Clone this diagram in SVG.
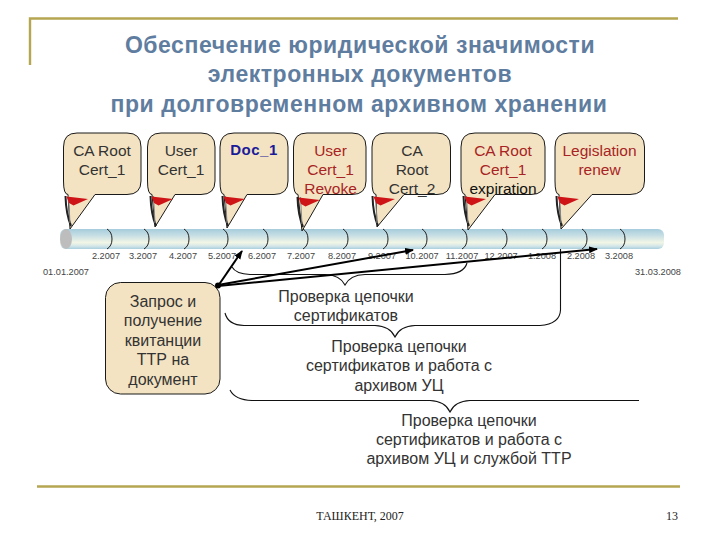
<svg xmlns="http://www.w3.org/2000/svg" width="720" height="540" viewBox="0 0 720 540">
<style>
text{font-family:"Liberation Sans",Arial,sans-serif;fill:#333;text-anchor:middle}
.c{font-size:15.5px}
.r{fill:#a82424}
.k{fill:#111}
.b{font-size:16px}
.d{font-size:9.2px;fill:#444}
.t{font-size:23px;font-weight:700;fill:#5f7d9f;letter-spacing:.55px}
.f{font-family:"Liberation Serif",serif;font-size:12px;fill:#222}
.bub{fill:#f3e3c2;stroke:#1a1a1a;stroke-width:1}
.tick{fill:none;stroke:#222;stroke-width:1}
.br{fill:none;stroke:#111;stroke-width:1.1}
.ar{fill:none;stroke:#000;stroke-width:2;marker-end:url(#ah)}
.gold{fill:none;stroke:#b5a652;stroke-width:2.4}
</style>
<defs>
<linearGradient id="bar" x1="0" y1="0" x2="0" y2="1">
<stop offset="0" stop-color="#a6ccdb"/><stop offset=".3" stop-color="#c4dde4"/><stop offset=".68" stop-color="#f2f6e6"/><stop offset=".85" stop-color="#d5e6e8"/><stop offset="1" stop-color="#a9cfdd"/>
</linearGradient>
<marker id="ah" markerWidth="10" markerHeight="8" refX="8" refY="3.500" orient="auto" markerUnits="userSpaceOnUse"><path d="M0 0L9 3.500L0 7Z" fill="#000"/></marker>
<g id="flag">
<path d="M-4.500 -33Q-4 -15 1 -3" fill="none" stroke="#222" stroke-width="2"/>
<path d="M-1.500 -33L0 -6" fill="none" stroke="#888" stroke-width="1"/>
<path d="M-3.500 -32.500L18 -30L3.500 -23.500L-1 -26Z" fill="#cf1418"/>
</g>
</defs>
<rect width="720" height="540" fill="#fff"/>
<path class="gold" d="M30 65V18.500H678"/>
<path class="gold" d="M37 486.500H680"/>
<g id="title">
<text class="t" x="360" y="53">Обеспечение юридической значимости</text>
<text class="t" x="360" y="82">электронных документов</text>
<text class="t" x="359" y="112">при долговременном архивном хранении</text>
</g>
<g id="timeline">
<rect x="60" y="229" width="604" height="20" rx="6" fill="url(#bar)"/>
<ellipse cx="66" cy="239" rx="6" ry="10" fill="#bdbdbd"/>
<path class="tick" d="M107 229Q112 232 112 239T107 249M144 229Q149 232 149 239T144 249M184 229Q189 232 189 239T184 249M223 229Q228 232 228 239T223 249M263 229Q268 232 268 239T263 249M303 229Q308 232 308 239T303 249M343 229Q348 232 348 239T343 249M383 229Q388 232 388 239T383 249M422 229Q427 232 427 239T422 249M462 229Q467 232 467 239T462 249M502 229Q507 232 507 239T502 249M542 229Q547 232 547 239T542 249M582 229Q587 232 587 239T582 249M620 229Q625 232 625 239T620 249"/>
<text class="d" x="106" y="259">2.2007</text><text class="d" x="143" y="259">3.2007</text><text class="d" x="183" y="259">4.2007</text><text class="d" x="222" y="259">5.2007</text><text class="d" x="262" y="259">6.2007</text><text class="d" x="301" y="259">7.2007</text><text class="d" x="342" y="259">8.2007</text><text class="d" x="382" y="259">9.2007</text><text class="d" x="422" y="259">10.2007</text><text class="d" x="462" y="259">11.2007</text><text class="d" x="501" y="259">12.2007</text><text class="d" x="542" y="259">1.2008</text><text class="d" x="581" y="259">2.2008</text><text class="d" x="619" y="259">3.2008</text>
<text class="d" x="66" y="275">01.01.2007</text><text class="d" x="658" y="275">31.03.2008</text>
</g>
<g id="n1"><path class="bub" d="M77 133H127Q141 133 141 147V181Q141 194.500 127 194.500H95L70 229L68 194.500Q63.500 194.500 63.500 181V147Q63.500 133 77 133Z"/><text class="c" x="102" y="156">CA Root</text><text class="c" x="102" y="175">Cert_1</text><use href="#flag" x="70" y="229"/></g>
<g id="n2"><path class="bub" d="M161 133H201Q215 133 215 147V181Q215 194.500 201 194.500H175L155 227L152 194.500Q147.500 194.500 147.500 181V147Q147.500 133 161 133Z"/><text class="c" x="181" y="156">User</text><text class="c" x="181" y="175">Cert_1</text><use href="#flag" x="155" y="229"/></g>
<g id="n3"><path class="bub" d="M234 133H274Q288 133 288 147V181Q288 194.500 274 194.500H247L227 228L224 194.500Q220 194.500 220 181V147Q220 133 234 133Z"/><text class="c" x="254" y="155" style="font-weight:700;fill:#1b1b9a;letter-spacing:.5px;font-size:15px">Doc_1</text><use href="#flag" x="227" y="229"/></g>
<g id="n4"><path class="bub" d="M307 133H352Q366 133 366 147V181Q366 194.500 352 194.500H323L302 231L298 194.500Q293.500 194.500 293.500 181V147Q293.500 133 307 133Z"/><text class="c r" x="330.500" y="156">User</text><text class="c r" x="330.500" y="175">Cert_1</text><text class="c r" x="330.500" y="194">Revoke</text><use href="#flag" x="302" y="230"/></g>
<g id="n5"><path class="bub" d="M386 133H437Q450.500 133 450.500 147V181Q450.500 194.500 437 194.500H404L377 227L376 194.500Q372 194.500 372 181V147Q372 133 386 133Z"/><text class="c" x="412" y="156">CA</text><text class="c" x="412" y="175">Root</text><text class="c" x="412" y="194">Cert_2</text><use href="#flag" x="377" y="229"/></g>
<g id="n6"><path class="bub" d="M475 133H531Q545 133 545 147V181Q545 194.500 531 194.500H495L468 230L465 194.500Q461 194.500 461 181V147Q461 133 475 133Z"/><text class="c r" x="503" y="156">CA Root</text><text class="c r" x="503" y="175">Cert_1</text><text class="c k" x="503" y="194">expiration</text><use href="#flag" x="468" y="229"/></g>
<g id="n7"><path class="bub" d="M569 133H630Q644.500 133 644.500 147V181Q644.500 194.500 630 194.500H592L561 229L559 194.500Q555 194.500 555 181V147Q555 133 569 133Z"/><text class="c r" x="599.500" y="156">Legislation</text><text class="c r" x="599.500" y="175">renew</text><use href="#flag" x="561" y="229"/></g>
<g id="n8"><rect class="bub" x="105.500" y="282.500" width="114.500" height="111.500" rx="15"/>
<text class="b" x="163" y="307">Запрос и</text><text class="b" x="163" y="326">получение</text><text class="b" x="163" y="346">квитанции</text><text class="b" x="163" y="365">ТТР на</text><text class="b" x="163" y="385">документ</text></g>
<g id="connectors">
<path class="br" d="M232 267Q236 274 250 274.500H325Q340 275 345 285Q350 275 365 274.500H445Q464 274 467 263"/>
<path class="br" d="M225 313Q228 325 244 325.500H375Q390 326 395 337Q400 326 415 325.500H540Q560 324 560.500 310V249"/>
<path class="br" d="M230 390Q235 400 252 400.500H430Q445 401 450 412Q455 401 470 400.500H639"/>
<path class="ar" d="M218 286L242 251"/>
<path class="ar" d="M218 285L413 250"/>
<path class="ar" d="M218 286L597 249"/>
<circle cx="218" cy="285.500" r="3" fill="#000"/>
</g>
<g id="l1"><text class="b" x="346" y="302">Проверка цепочки</text><text class="b" x="346" y="321">сертификатов</text></g>
<g id="l2"><text class="b" x="399" y="352">Проверка цепочки</text><text class="b" x="399" y="371">сертификатов и работа с</text><text class="b" x="399" y="391">архивом УЦ</text></g>
<g id="l3"><text class="b" x="469" y="426">Проверка цепочки</text><text class="b" x="469" y="445">сертификатов и работа с</text><text class="b" x="469" y="464">архивом УЦ и службой ТТР</text></g>
<g id="footer"><text class="f" x="360" y="520">ТАШКЕНТ, 2007</text><text class="f" x="672" y="520">13</text></g>
</svg>
